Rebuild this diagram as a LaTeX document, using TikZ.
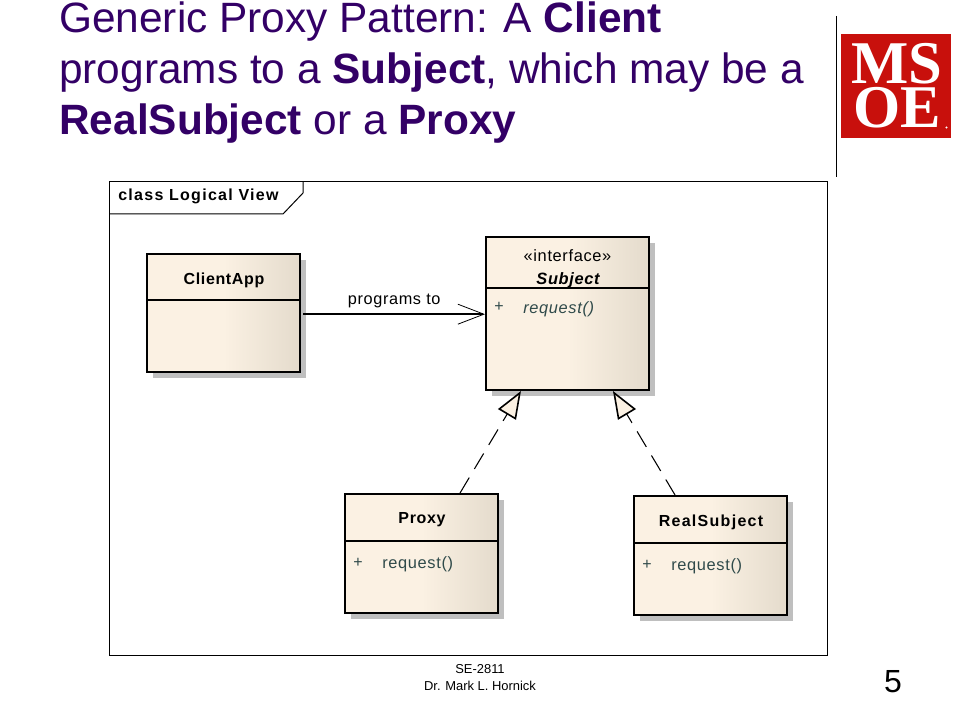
\documentclass[tikz,border=0pt]{standalone}
\usepackage{fontspec}
\setmainfont{Liberation Sans}
\newfontfamily\logofont{Liberation Serif}
\newfontfamily\umlfont[LetterSpace=4]{Liberation Sans}
\newfontfamily\umlwide[LetterSpace=8]{Liberation Sans}
\usetikzlibrary{arrows.meta,shadows,positioning}
\definecolor{titlepurple}{HTML}{330066}
\definecolor{umltext}{HTML}{2F4A4A}
\definecolor{creamL}{HTML}{FBF1E3}
\definecolor{creamR}{HTML}{E4DBCC}
\definecolor{msoered}{HTML}{C8100C}
\pgfdeclarehorizontalshading{cream}{100bp}{color(0bp)=(creamL); color(25bp)=(creamL); color(50bp)=(creamL); color(75bp)=(creamR); color(100bp)=(creamR)}
\tikzset{
  umlbox/.style={draw=black,line width=1.5pt,shading=cream,shading angle=0,rectangle,inner sep=0pt,
    general shadow={shadow xshift=4.5pt,shadow yshift=-4.5pt,fill=black!25}},
  umlrule/.style={line width=1.5pt},
  titletext/.style={anchor=base west,inner sep=0pt,text=titlepurple,font=\fontsize{31.8}{32}\selectfont},
  classname/.style={inner sep=0pt,font=\umlfont\bfseries\fontsize{12}{12}\selectfont},
  member/.style={inner sep=0pt,anchor=west,text=umltext,font=\umlfont\fontsize{12.3}{12}\selectfont},
  plus/.style={inner sep=0pt,text=umltext,font=\fontsize{12}{12}\selectfont},
  foot/.style={inner sep=0pt,font=\fontsize{9.7}{10}\selectfont},
  logotext/.style={inner sep=0pt,text=white,font=\logofont\bfseries\fontsize{45.5}{46}\selectfont},
  realize/.style={line width=0.8pt,dash pattern=on 13.5pt off 7.5pt,
    -{Triangle[open,length=20.5pt,width=15.5pt,fill=creamL,line width=1.2pt]}},
}
\begin{document}
\begin{tikzpicture}[x=0.75pt,y=-0.75pt]
\useasboundingbox (0,0) rectangle (960,720);
% title
\node[titletext] (t1) at (59,33) {Generic Proxy Pattern: A \textbf{Client}};
\node[titletext] (t2) at (59,84) {programs to a \textbf{Subject}, which may be a};
\node[titletext] (t3) at (59,135) {\textbf{RealSubject} or a \textbf{Proxy}};
% divider and logo
\draw[line width=0.9pt] (836.5,16) -- (836.5,177);
\fill[msoered] (841,34) rectangle (951,138);
\node[logotext] (ms) at (897,64) {MS};
\node[logotext] (oe) at (897,107.5) {OE};
\fill[white] (946.5,127.5) circle (1.2);
% frame
\draw[line width=0.75pt] (109.5,182) rectangle (827,655);
\draw[line width=0.75pt] (109.5,214) -- (283,214) -- (303,193) -- (303,182);
\node[classname,anchor=west,font=\umlwide\bfseries\fontsize{12}{12}\selectfont] (frame) at (118,196) {class Logical View};
% classes
\node[umlbox,minimum width=114.75pt,minimum height=88.5pt] (client) at (223.5,313) {};
\node[umlbox,minimum width=122.25pt,minimum height=114.75pt] (subject) at (567.5,313.5) {};
\node[umlbox,minimum width=114.75pt,minimum height=89.25pt] (proxy) at (421.5,553.5) {};
\node[umlbox,minimum width=114.75pt,minimum height=89.25pt] (real) at (710.5,555.5) {};
% compartments
\draw[umlrule] (client.west |- 0,300) -- (client.east |- 0,300);
\draw[umlrule] (subject.west |- 0,288) -- (subject.east |- 0,288);
\draw[umlrule] (proxy.west |- 0,541) -- (proxy.east |- 0,541);
\draw[umlrule] (real.west |- 0,543) -- (real.east |- 0,543);
% labels
\node[classname] (clientname) at (224,280) {ClientApp};
\node[inner sep=0pt,font=\umlfont\fontsize{12.3}{12}\selectfont] (stereo) at (567.5,255.5) {«interface»};
\node[classname,font=\umlfont\bfseries\itshape\fontsize{12.3}{12}\selectfont] (subjectname) at (568,280) {Subject};
\node[plus] (p1) at (499,307) {+};
\node[member,font=\umlfont\itshape\fontsize{12.3}{12}\selectfont] (m1) at (523,309) {request()};
\node[classname] (proxyname) at (422,520) {Proxy};
\node[plus] (p2) at (358,562.5) {+};
\node[member] (m2) at (382,564) {request()};
\node[classname,font=\umlwide\bfseries\fontsize{12}{12}\selectfont] (realname) at (711,522) {RealSubject};
\node[plus] (p3) at (647,564.5) {+};
\node[member] (m3) at (671,566) {request()};
% connectors
\coordinate (cstart) at ([xshift=1.8pt,yshift=-0.9pt]client.east);
\draw[line width=1.4pt,-{Straight Barb[length=19.5pt,width=15pt,line width=0.6pt]}] (cstart) -- (cstart -| subject.west)
  node[midway,above=4pt,inner sep=0pt,font=\umlfont\fontsize{12.2}{12}\selectfont] (lbl) {programs to};
\draw[realize] ([xshift=28.9pt]proxy.north) -- ([xshift=-34.9pt]subject.south);
\draw[realize] ([xshift=-26.6pt]real.north) -- ([xshift=34.1pt]subject.south);
% footer
\node[foot] (f1) at (480,669.5) {SE-2811};
\node[foot] (f2) at (480,685.5) {Dr. Mark L. Hornick};
\node[inner sep=0pt,font=\fontsize{24}{24}\selectfont] (page) at (893,681.5) {5};
\end{tikzpicture}
\end{document}
